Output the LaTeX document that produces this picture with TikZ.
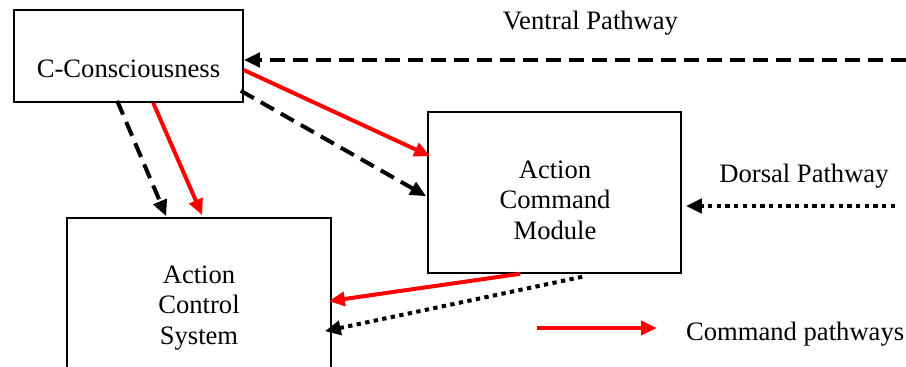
\documentclass[tikz,border=0pt]{standalone}
\usepackage{fontspec}
\setmainfont{Liberation Serif}
\usetikzlibrary{arrows.meta,calc}
\begin{document}
\begin{tikzpicture}[x=1pt,y=-1pt,
  box/.style={draw,line width=1.6pt,inner sep=0pt},
  txt/.style={font=\fontsize{26.6}{30.5}\selectfont,inner sep=0pt,anchor=base,align=center},
  tip/.style={-{Triangle[length=16pt,width=14pt]}},
  redarr/.style={draw=red,line width=4pt,tip},
  dasharr/.style={draw=black,line width=4pt,dash pattern=on 15pt off 8pt,tip},
  dotarr/.style={draw=black,line width=4pt,dash pattern=on 4.3pt off 4.4pt,tip}]
\useasboundingbox (0,0) rectangle (906,367);
% boxes
\node[box,minimum width=229pt,minimum height=92pt] (cc) at (128.5,56) {};
\node[box,minimum width=253pt,minimum height=161pt] (acm) at (554.5,192.5) {};
\node[box,minimum width=264pt,minimum height=182pt] (acs) at (199,309) {};
% texts
\node[txt] (cctext) at (128.5,77) {C-Consciousness};
\node[txt] (acmtext) at (555,239) {Action\\Command\\Module};
\node[txt] (acstext) at (199,344) {Action\\Control\\System};
\node[txt] (ventral) at (590.5,29.5) {Ventral Pathway};
\node[txt] (dorsal) at (804,182) {Dorsal Pathway};
\node[txt,anchor=base west] (legend) at (686,340) {Command pathways};
% free ends
\coordinate (vstart) at (906,60);
\coordinate (dstart) at (895,206);
\coordinate (lga) at (537,328);
\coordinate (lgb) at (657,328);
% connectors
\draw[dasharr] (vstart) -- (vstart -| cc.east);
\draw[dotarr] (dstart) -- ($(dstart -| acm.east)+(4,0)$);
\draw[redarr] ($(cc.east)+(0,14)$) -- ($(acm.north west)+(3,45)$);
\draw[dasharr] ($(cc.south east)+(-3,-12)$) -- ($(acm.north west)+(-1,85)$);
\draw[dasharr] ($(cc.south west)+(104,-2)$) -- ($(acs.north west)+(100,-1)$);
\draw[redarr] ($(cc.south west)+(140,0)$) -- ($(acs.north west)+(136,-2)$);
\draw[redarr] ($(acm.south west)+(93,0)$) -- ($(acs.north east)+(-3,84)$);
\draw[dotarr] ($(acm.south west)+(155,3)$) -- ($(acs.north east)+(-7,114)$);
\draw[redarr] (lga) -- (lgb);
\end{tikzpicture}
\end{document}
